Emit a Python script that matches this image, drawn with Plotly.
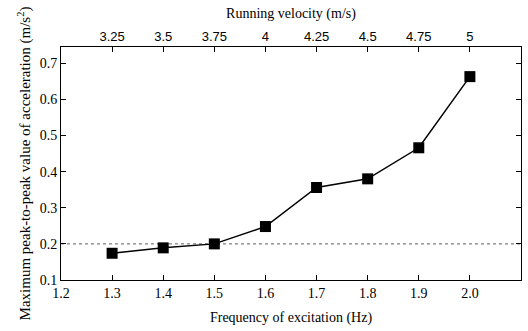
import plotly.graph_objects as go

freq = [1.3, 1.4, 1.5, 1.6, 1.7, 1.8, 1.9, 2.0]
accel = [0.174, 0.189, 0.200, 0.248, 0.356, 0.380, 0.466, 0.663]
velocity_ticks = [3.25, 3.5, 3.75, 4, 4.25, 4.5, 4.75, 5]
limit_value = 0.2
x_ticks = [1.2, 1.3, 1.4, 1.5, 1.6, 1.7, 1.8, 1.9, 2.0, 2.1]
y_ticks = [0.1, 0.2, 0.3, 0.4, 0.5, 0.6, 0.7]

serif = "Liberation Serif"
sans = "Liberation Sans"

fig = go.Figure()
fig.add_trace(go.Scatter(x=[x_ticks[0], x_ticks[-1]], y=[limit_value, limit_value], mode="lines",
                         line=dict(color="#333333", width=0.8, dash="3px,3px"), showlegend=False,
                         hoverinfo="skip"))
fig.add_trace(go.Scatter(x=freq, y=accel, mode="lines+markers",
                         line=dict(color="black", width=1.5),
                         marker=dict(symbol="square", size=11, color="black"),
                         showlegend=False))
fig.add_trace(go.Scatter(x=velocity_ticks, y=[None]*len(velocity_ticks), xaxis="x2",
                         mode="markers", showlegend=False, hoverinfo="skip"))

fig.update_layout(
    width=528, height=331,
    margin=dict(l=61, r=7, t=47, b=51),
    plot_bgcolor="white", paper_bgcolor="white",
    xaxis=dict(range=[1.2, 2.1], tickvals=x_ticks, ticktext=[f"{v:.1f}" for v in x_ticks],
               ticks="inside", ticklen=5, tickcolor="black", showline=True, linecolor="black",
               linewidth=1, showgrid=False, zeroline=False,
               tickfont=dict(family=serif, size=14, color="black"),
               title=dict(text="Frequency of excitation (Hz)", standoff=12,
                          font=dict(family=serif, size=14, color="black"))),
    xaxis2=dict(range=[3.0, 5.25], overlaying="x", side="top", tickvals=velocity_ticks,
                ticktext=[str(v) for v in velocity_ticks],
                ticks="inside", ticklen=5, tickcolor="black", showline=True, linecolor="black",
                linewidth=1, showgrid=False, zeroline=False,
                tickfont=dict(family=sans, size=13, color="black"),
                title=dict(text="Running velocity (m/s)", standoff=6,
                           font=dict(family=serif, size=14, color="black"))),
    yaxis=dict(range=[0.1, 0.745], tickvals=y_ticks, ticktext=[f"{v:.1f}" for v in y_ticks],
               ticks="inside", ticklen=5, tickcolor="black", showline=True, linecolor="black",
               linewidth=1, mirror="ticks", showgrid=False, zeroline=False,
               tickfont=dict(family=serif, size=14, color="black"),
               title=dict(text="Maximum peak-to-peak value of acceleration (m/s<sup>2</sup>)",
                          standoff=5, font=dict(family=serif, size=15, color="black"))),
)

fig.write_html("out.html")
